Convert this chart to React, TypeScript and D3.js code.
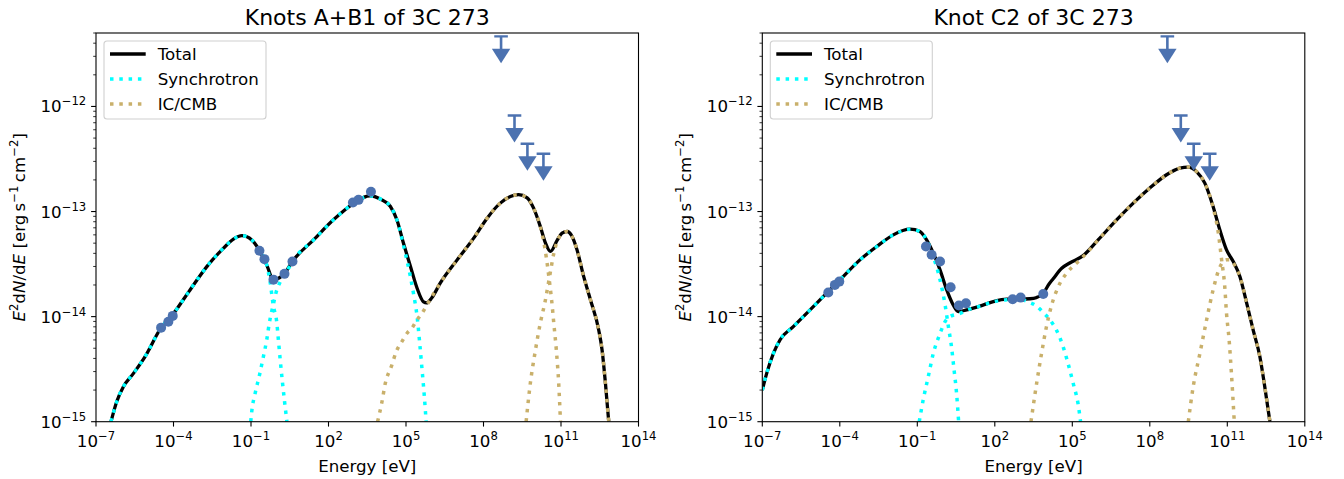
import React, { useEffect, useRef } from 'react';
import * as d3 from 'd3';

type Pt = [number, number];

// every value is log10: energy in eV, E^2 dN/dE in erg s^-1 cm^-2
const energyTicks = [-7, -4, -1, 2, 5, 8, 11, 14];
const fluxTicks = [-15, -14, -13, -12];
const legendLabels = ['Total', 'Synchrotron', 'IC/CMB'];
const panelTitles = ['Knots A+B1 of 3C 273', 'Knot C2 of 3C 273'];

// Fermi upper limits (same in both panels)
const ulEnergy = [8.68, 9.2, 9.7, 10.32];
const ulFlux = [-11.333, -12.086, -12.355, -12.45];

// --- knots A+B1 ---
const abTotal: Pt[] = [
  [-6.42, -15.0], [-6.2, -14.81], [-5.94, -14.667], [-5.55, -14.54], [-5.1, -14.38], [-4.49, -14.11],
  [-4.0, -13.97], [-3.36, -13.746], [-2.71, -13.524], [-2.07, -13.35], [-1.68, -13.263], [-1.35, -13.23],
  [-0.97, -13.27], [-0.65, -13.38], [-0.39, -13.51], [-0.13, -13.65], [0.1, -13.63], [0.3, -13.59],
  [0.6, -13.476], [1.42, -13.27], [2.19, -13.079], [2.95, -12.927], [3.6, -12.85], [4.0, -12.88],
  [4.39, -12.95], [4.65, -13.08], [4.9, -13.3], [5.17, -13.52], [5.43, -13.73], [5.68, -13.86],
  [5.8, -13.87], [6.0, -13.82], [6.33, -13.68], [6.98, -13.46], [7.62, -13.253], [8.14, -13.063],
  [8.65, -12.92], [9.04, -12.857], [9.36, -12.84], [9.69, -12.87], [9.94, -12.968], [10.2, -13.143],
  [10.4, -13.3], [10.59, -13.38], [10.86, -13.27], [11.04, -13.206], [11.24, -13.19], [11.43, -13.238],
  [11.62, -13.365], [11.88, -13.62], [12.14, -13.84], [12.46, -14.127], [12.59, -14.317], [12.72, -14.634],
  [12.83, -14.95], [12.85, -15.0],
];
const abSynch1: Pt[] = [
  [-6.42, -15.0], [-6.2, -14.81], [-5.94, -14.667], [-5.55, -14.54], [-5.1, -14.38], [-4.49, -14.11],
  [-4.0, -13.97], [-3.36, -13.746], [-2.71, -13.524], [-2.07, -13.35], [-1.68, -13.263], [-1.35, -13.23],
  [-0.97, -13.27], [-0.65, -13.38], [-0.39, -13.51], [-0.26, -13.67], [-0.14, -13.89], [0.0, -14.06],
  [0.06, -14.22], [0.13, -14.41], [0.22, -14.63], [0.3, -14.81], [0.39, -15.0],
];
const abSynch2: Pt[] = [
  [-1.01, -15.0], [-0.97, -14.9], [-0.84, -14.73], [-0.67, -14.555], [-0.52, -14.38], [-0.39, -14.22],
  [-0.29, -14.06], [-0.19, -13.94], [-0.14, -13.89], [-0.03, -13.77], [0.13, -13.67], [0.32, -13.6],
  [0.6, -13.476], [1.42, -13.27], [2.19, -13.079], [2.95, -12.927], [3.6, -12.85], [4.0, -12.88],
  [4.39, -12.95], [4.65, -13.08], [4.9, -13.32], [5.17, -13.62], [5.29, -13.78], [5.43, -14.0],
  [5.53, -14.25], [5.62, -14.5], [5.71, -14.76], [5.78, -15.0],
];
const abIC1: Pt[] = [
  [3.9, -15.0], [4.07, -14.81], [4.2, -14.634], [4.43, -14.476], [4.65, -14.317], [4.84, -14.238],
  [5.04, -14.158], [5.23, -14.11], [5.43, -14.03], [5.62, -13.968], [5.81, -13.889], [6.33, -13.68],
  [6.98, -13.46], [7.62, -13.253], [8.14, -13.063], [8.65, -12.92], [9.04, -12.857], [9.36, -12.84],
  [9.69, -12.87], [9.94, -12.968], [10.2, -13.143], [10.39, -13.37], [10.56, -13.68], [10.64, -13.85],
  [10.72, -14.06], [10.82, -14.32], [10.91, -14.63], [10.98, -15.0],
];
const abIC2: Pt[] = [
  [9.65, -15.0], [9.815, -14.63], [10.01, -14.32], [10.2, -14.06], [10.39, -13.85], [10.5, -13.7],
  [10.6, -13.56], [10.72, -13.4], [10.86, -13.28], [11.04, -13.21], [11.24, -13.19], [11.43, -13.238],
  [11.62, -13.365], [11.88, -13.62], [12.14, -13.84], [12.46, -14.127], [12.59, -14.317], [12.72, -14.634],
  [12.83, -14.95], [12.85, -15.0],
];
const abPoints: Pt[] = [
  [-4.48, -14.105], [-4.2, -14.048], [-4.03, -13.993], [-0.673, -13.374], [-0.479, -13.453], [-0.13, -13.648],
  [0.296, -13.593], [0.606, -13.476], [2.946, -12.914], [3.163, -12.889], [3.643, -12.812],
];

// --- knot C2 ---
const c2Total: Pt[] = [
  [-7.0, -14.7], [-6.83, -14.54], [-6.57, -14.35], [-6.31, -14.22], [-5.8, -14.095], [-5.15, -13.936],
  [-4.51, -13.777], [-3.87, -13.619], [-3.22, -13.46], [-2.57, -13.333], [-1.93, -13.222], [-1.28, -13.168],
  [-0.9, -13.19], [-0.64, -13.27], [-0.38, -13.396], [-0.12, -13.555], [0.14, -13.746], [0.39, -13.889],
  [0.585, -13.952], [0.91, -13.936], [1.425, -13.9], [1.94, -13.857], [2.46, -13.834], [2.97, -13.834],
  [3.36, -13.83], [3.6, -13.82], [3.87, -13.78], [4.1, -13.69], [4.26, -13.64], [4.59, -13.54],
  [4.9, -13.49], [5.42, -13.42], [6.0, -13.27], [6.715, -13.08], [7.36, -12.92], [8.0, -12.777],
  [8.65, -12.65], [9.165, -12.587], [9.49, -12.577], [9.81, -12.62], [10.13, -12.73], [10.45, -12.952],
  [10.71, -13.174], [10.97, -13.365], [11.23, -13.476], [11.49, -13.62], [11.75, -13.872], [12.0, -14.127],
  [12.26, -14.38], [12.45, -14.667], [12.65, -15.0],
];
const c2Synch1: Pt[] = [
  [-7.0, -14.7], [-6.83, -14.54], [-6.57, -14.35], [-6.31, -14.22], [-5.8, -14.095], [-5.15, -13.936],
  [-4.51, -13.777], [-3.87, -13.619], [-3.22, -13.46], [-2.57, -13.333], [-1.93, -13.222], [-1.28, -13.168],
  [-0.9, -13.19], [-0.64, -13.27], [-0.38, -13.43], [-0.12, -13.65], [0.07, -13.88], [0.2, -14.09],
  [0.33, -14.3], [0.42, -14.5], [0.52, -14.73], [0.6, -15.0],
];
const c2Synch2: Pt[] = [
  [-0.925, -15.0], [-0.77, -14.79], [-0.575, -14.57], [-0.38, -14.35], [-0.12, -14.16], [0.07, -14.05],
  [0.26, -14.0], [0.65, -13.97], [0.91, -13.94], [1.425, -13.9], [1.94, -13.86], [2.46, -13.84],
  [2.97, -13.834], [3.3, -13.86], [3.62, -13.9], [3.87, -13.96], [4.13, -14.03], [4.39, -14.13],
  [4.65, -14.29], [4.84, -14.45], [5.04, -14.64], [5.23, -14.84], [5.32, -15.0],
];
const c2IC1: Pt[] = [
  [3.4, -15.0], [3.62, -14.634], [3.81, -14.35], [4.0, -14.095], [4.2, -13.89], [4.46, -13.714],
  [4.78, -13.587], [5.17, -13.49], [5.55, -13.396], [6.0, -13.27], [6.715, -13.08], [7.36, -12.92],
  [8.0, -12.777], [8.65, -12.65], [9.165, -12.587], [9.49, -12.577], [9.81, -12.62], [10.13, -12.73],
  [10.45, -12.96], [10.65, -13.2], [10.78, -13.46], [10.9, -13.71], [10.97, -13.97], [11.07, -14.22],
  [11.16, -14.54], [11.27, -15.0],
];
const c2IC2: Pt[] = [
  [9.49, -15.0], [9.68, -14.667], [9.94, -14.35], [10.2, -14.03], [10.45, -13.746], [10.71, -13.53],
  [10.97, -13.46], [11.1, -13.46], [11.23, -13.49], [11.49, -13.62], [11.75, -13.872], [12.0, -14.127],
  [12.26, -14.38], [12.45, -14.667], [12.65, -15.0],
];
const c2Points: Pt[] = [
  [-4.445, -13.771], [-4.19, -13.698], [-4.02, -13.667], [-0.665, -13.333], [-0.445, -13.412], [-0.12, -13.476],
  [0.29, -13.72], [0.61, -13.895], [0.883, -13.873], [2.69, -13.834], [3.0, -13.819], [3.875, -13.784],
];

const FONT = '"DejaVu Sans", sans-serif';
const FS = 16.67;
const colTotal = '#000000';
const colSynch = '#00ffff';
const colIC = '#c9b06b';
const colData = '#4c72b0';

type Seg = { t: string; sup?: boolean; it?: boolean };

// mathtext-ish label built from tspans
function richText(sel: any, segs: Seg[], size: number) {
  let raised = false;
  segs.forEach((s) => {
    const ts = sel.append('tspan').text(s.t);
    if (s.sup) {
      ts.attr('font-size', size * 0.7);
      if (!raised) { ts.attr('dy', -size * 0.42); raised = true; }
    } else if (raised) {
      ts.attr('dy', size * 0.42);
      raised = false;
    }
    if (s.it) ts.attr('font-style', 'italic');
  });
}

const App = () => {
  const svgRef = useRef<SVGSVGElement>(null);

  useEffect(() => {
    if (!svgRef.current) return;
    const svg = d3.select(svgRef.current);
    svg.selectAll('*').remove();

    const panels = [
      { title: panelTitles[0], left: 96, total: abTotal, synch: [abSynch1, abSynch2], ic: [abIC1, abIC2], points: abPoints },
      { title: panelTitles[1], left: 762.3, total: c2Total, synch: [c2Synch1, c2Synch2], ic: [c2IC1, c2IC2], points: c2Points },
    ];
    const plotW = 542.5;
    const top = 33;
    const bottom = 421.7;

    panels.forEach((p, pi) => {
      const x = d3.scaleLog().domain([1e-7, 1e14]).range([p.left, p.left + plotW]);
      const y = d3.scaleLog().domain([1e-15, 5e-12]).range([bottom, top]);
      const g = svg.append('g').style('font-family', FONT);

      const clipId = `clip-${pi}`;
      g.append('clipPath').attr('id', clipId)
        .append('rect').attr('x', p.left).attr('y', top).attr('width', plotW).attr('height', bottom - top);

      const line = d3.line<Pt>()
        .x((d) => x(10 ** d[0]))
        .y((d) => y(10 ** d[1]))
        .curve(d3.curveMonotoneX);

      const plot = g.append('g').attr('clip-path', `url(#${clipId})`);

      plot.append('path').attr('d', line(p.total))
        .attr('fill', 'none').attr('stroke', colTotal).attr('stroke-width', 3.3)
        .attr('stroke-linejoin', 'round');

      p.synch.forEach((s) => {
        plot.append('path').attr('d', line(s))
          .attr('fill', 'none').attr('stroke', colSynch).attr('stroke-width', 3.5)
          .attr('stroke-dasharray', '3.5 5.8');
      });
      p.ic.forEach((s) => {
        plot.append('path').attr('d', line(s))
          .attr('fill', 'none').attr('stroke', colIC).attr('stroke-width', 3.5)
          .attr('stroke-dasharray', '3.5 5.8');
      });

      // measured points
      plot.selectAll('.pt').data(p.points).enter().append('circle')
        .attr('cx', (d) => x(10 ** d[0]))
        .attr('cy', (d) => y(10 ** d[1]))
        .attr('r', 5)
        .attr('fill', colData);

      // upper limits: cap, stem and caret head
      ulEnergy.forEach((e, i) => {
        const cx = x(10 ** e);
        const cy = y(10 ** ulFlux[i]);
        const ul = plot.append('g');
        ul.append('line').attr('x1', cx - 6.8).attr('x2', cx + 6.8).attr('y1', cy).attr('y2', cy)
          .attr('stroke', colData).attr('stroke-width', 2.3);
        ul.append('line').attr('x1', cx).attr('x2', cx).attr('y1', cy).attr('y2', cy + 14)
          .attr('stroke', colData).attr('stroke-width', 2.6);
        ul.append('path')
          .attr('d', `M${cx - 9.2},${cy + 12.5}L${cx + 9.2},${cy + 12.5}L${cx},${cy + 27}Z`)
          .attr('fill', colData);
      });

      // frame
      g.append('rect').attr('x', p.left).attr('y', top).attr('width', plotW).attr('height', bottom - top)
        .attr('fill', 'none').attr('stroke', '#000').attr('stroke-width', 1.1);

      // x ticks
      energyTicks.forEach((t) => {
        const tx = x(10 ** t);
        g.append('line').attr('x1', tx).attr('x2', tx).attr('y1', bottom).attr('y2', bottom + 4.9)
          .attr('stroke', '#000').attr('stroke-width', 1.1);
        const lab = g.append('text').attr('x', tx).attr('y', bottom + 25)
          .attr('text-anchor', 'middle').attr('font-size', FS).attr('fill', '#000');
        richText(lab, [{ t: '10' }, { t: t < 0 ? `\u2212${-t}` : `${t}`, sup: true }], FS);
      });

      // y ticks (major + log minor)
      fluxTicks.forEach((t) => {
        const ty = y(10 ** t);
        g.append('line').attr('x1', p.left - 4.9).attr('x2', p.left).attr('y1', ty).attr('y2', ty)
          .attr('stroke', '#000').attr('stroke-width', 1.1);
        const lab = g.append('text').attr('x', p.left - 9.7).attr('y', ty + 6)
          .attr('text-anchor', 'end').attr('font-size', FS).attr('fill', '#000');
        richText(lab, [{ t: '10' }, { t: `\u2212${-t}`, sup: true }], FS);
        d3.range(2, 10).forEach((m) => {
          const v = m * 10 ** t;
          if (v > 5e-12) return;
          const my = y(v);
          g.append('line').attr('x1', p.left - 2.8).attr('x2', p.left).attr('y1', my).attr('y2', my)
            .attr('stroke', '#000').attr('stroke-width', 0.8);
        });
      });

      // axis labels and title
      g.append('text').attr('x', p.left + plotW / 2).attr('y', 472)
        .attr('text-anchor', 'middle').attr('font-size', FS).text('Energy [eV]');

      const yl = g.append('text')
        .attr('transform', `translate(${p.left - 71},${(top + bottom) / 2}) rotate(-90)`)
        .attr('text-anchor', 'middle').attr('font-size', FS);
      richText(yl, [
        { t: 'E', it: true }, { t: '2', sup: true }, { t: 'd' }, { t: 'N', it: true }, { t: '/d' },
        { t: 'E', it: true }, { t: ' [erg\u2009s' }, { t: '\u22121', sup: true }, { t: '\u2009cm' },
        { t: '\u22122', sup: true }, { t: ']' },
      ], FS);

      g.append('text').attr('x', p.left + plotW / 2).attr('y', 25)
        .attr('text-anchor', 'middle').attr('font-size', 22).text(p.title);

      // legend
      const lg = g.append('g').attr('transform', `translate(${p.left + 8},${top + 8})`);
      lg.append('rect').attr('width', 162).attr('height', 78).attr('rx', 3)
        .attr('fill', '#fff').attr('fill-opacity', 0.8).attr('stroke', '#d0d0d0').attr('stroke-width', 1.1);
      const styles = [
        { c: colTotal, dash: null },
        { c: colSynch, dash: '3.5 5.8' },
        { c: colIC, dash: '3.5 5.8' },
      ];
      legendLabels.forEach((lab, i) => {
        const ry = 13 + i * 25;
        const l = lg.append('line').attr('x1', 6).attr('x2', 41.7).attr('y1', ry).attr('y2', ry)
          .attr('stroke', styles[i].c).attr('stroke-width', 3.4);
        if (styles[i].dash) l.attr('stroke-dasharray', styles[i].dash);
        lg.append('text').attr('x', 53.7).attr('y', ry + 6).attr('font-size', FS).text(lab);
      });
    });
  }, []);

  return (
    <svg
      ref={svgRef}
      width={1344}
      height={479}
      style={{ position: 'absolute', left: 0, top: 0, background: '#fff' }}
    />
  );
};

export default App;
